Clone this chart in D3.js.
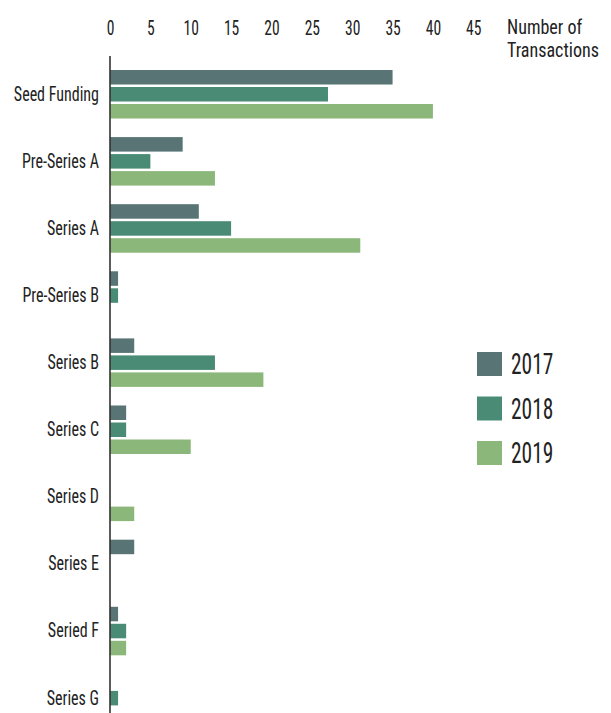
<!DOCTYPE html>
<html>
<head>
<meta charset="utf-8">
<script src="https://cdn.jsdelivr.net/npm/d3@7"></script>
<style>
  html, body { margin: 0; padding: 0; background: #fff; }
  svg text { font-family: "Roboto Condensed", Roboto, sans-serif; font-weight: 400; fill: #222; }
</style>
</head>
<body>
<svg id="chart" width="611" height="713"></svg>
<script>
// Funding stages and number of transactions per year
const stages = ["Seed Funding", "Pre-Series A", "Series A", "Pre-Series B", "Series B",
                "Series C", "Series D", "Series E", "Seried F", "Series G"];
const years = ["2017", "2018", "2019"];
const values2017 = [35, 9, 11, 1, 3, 2, 0, 3, 1, 0];
const values2018 = [27, 5, 15, 1, 13, 2, 0, 0, 2, 1];
const values2019 = [40, 13, 31, 0, 19, 10, 3, 0, 2, 0];
const xTicks = [0, 5, 10, 15, 20, 25, 30, 35, 40, 45];
const colors = ["#587474", "#4a8b76", "#8bb87a"];

const seriesByYear = [values2017, values2018, values2019];
const rows = stages.map((s, i) => ({
  stage: s,
  values: years.map((y, k) => ({ year: y, value: seriesByYear[k][i] }))
}));

const svg = d3.select("#chart");

const x = d3.scaleLinear().domain([0, 45]).range([110, 473.3]);

const y0 = d3.scaleBand()
  .domain(stages)
  .range([60, 732.4])
  .paddingInner(0.277)
  .paddingOuter(0.149);

const y1 = d3.scaleBand()
  .domain(years)
  .range([0, y0.bandwidth()])
  .paddingInner(0.147);

const color = d3.scaleOrdinal().domain(years).range(colors);

// Narrow the glyphs horizontally around each text's anchor point
function condense(sel, sx) {
  sel.each(function () {
    const t = d3.select(this);
    const tx = +t.attr("x") || 0;
    t.attr("x", 0).attr("transform", `translate(${tx},0) scale(${sx},1)`);
  });
}

// Top axis: tick labels only
const xAxis = d3.axisTop(x).tickValues(xTicks).tickSize(0).tickPadding(0);
const gx = svg.append("g").attr("transform", "translate(0,34.5)").call(xAxis);
gx.select(".domain").remove();
gx.selectAll("text")
  .attr("font-size", 20.5)
  .attr("dy", 0)
  .style("font-family", null)
  .call(condense, 0.76);

const title = svg.append("g").attr("transform", "translate(507,0)");
title.append("text").attr("y", 34.5).attr("font-size", 20.5).text("Number of");
title.append("text").attr("y", 57.5).attr("font-size", 20.5).text("Transactions");
title.selectAll("text").call(condense, 0.88);

// Bars
const groups = svg.append("g").selectAll("g")
  .data(rows)
  .join("g")
  .attr("transform", d => `translate(0,${y0(d.stage)})`);

groups.selectAll("rect")
  .data(d => d.values.filter(v => v.value > 0))
  .join("rect")
  .attr("x", x(0))
  .attr("y", d => y1(d.year))
  .attr("width", d => x(d.value) - x(0))
  .attr("height", y1.bandwidth())
  .attr("fill", d => color(d.year));

// Left axis: stage labels and vertical line
const yAxis = d3.axisLeft(y0).tickSize(0).tickPadding(11);
const gy = svg.append("g").attr("transform", `translate(${x(0)},0)`).call(yAxis);
gy.select(".domain").remove();
gy.selectAll("text")
  .attr("font-size", 20)
  .style("font-family", null)
  .call(condense, 0.8);

svg.append("line")
  .attr("x1", x(0)).attr("x2", x(0))
  .attr("y1", 56).attr("y2", 713)
  .attr("stroke", "#333")
  .attr("stroke-width", 1.6);

// Legend
const legend = svg.append("g").selectAll("g")
  .data(years)
  .join("g")
  .attr("transform", (d, i) => `translate(477,${352 + i * 44.5})`);
legend.append("rect")
  .attr("width", 25).attr("height", 24)
  .attr("fill", d => color(d));
legend.append("text")
  .attr("x", 34).attr("y", 12)
  .attr("dy", "0.36em")
  .attr("font-size", 29)
  .text(d => d)
  .call(condense, 0.74);
</script>
</body>
</html>
